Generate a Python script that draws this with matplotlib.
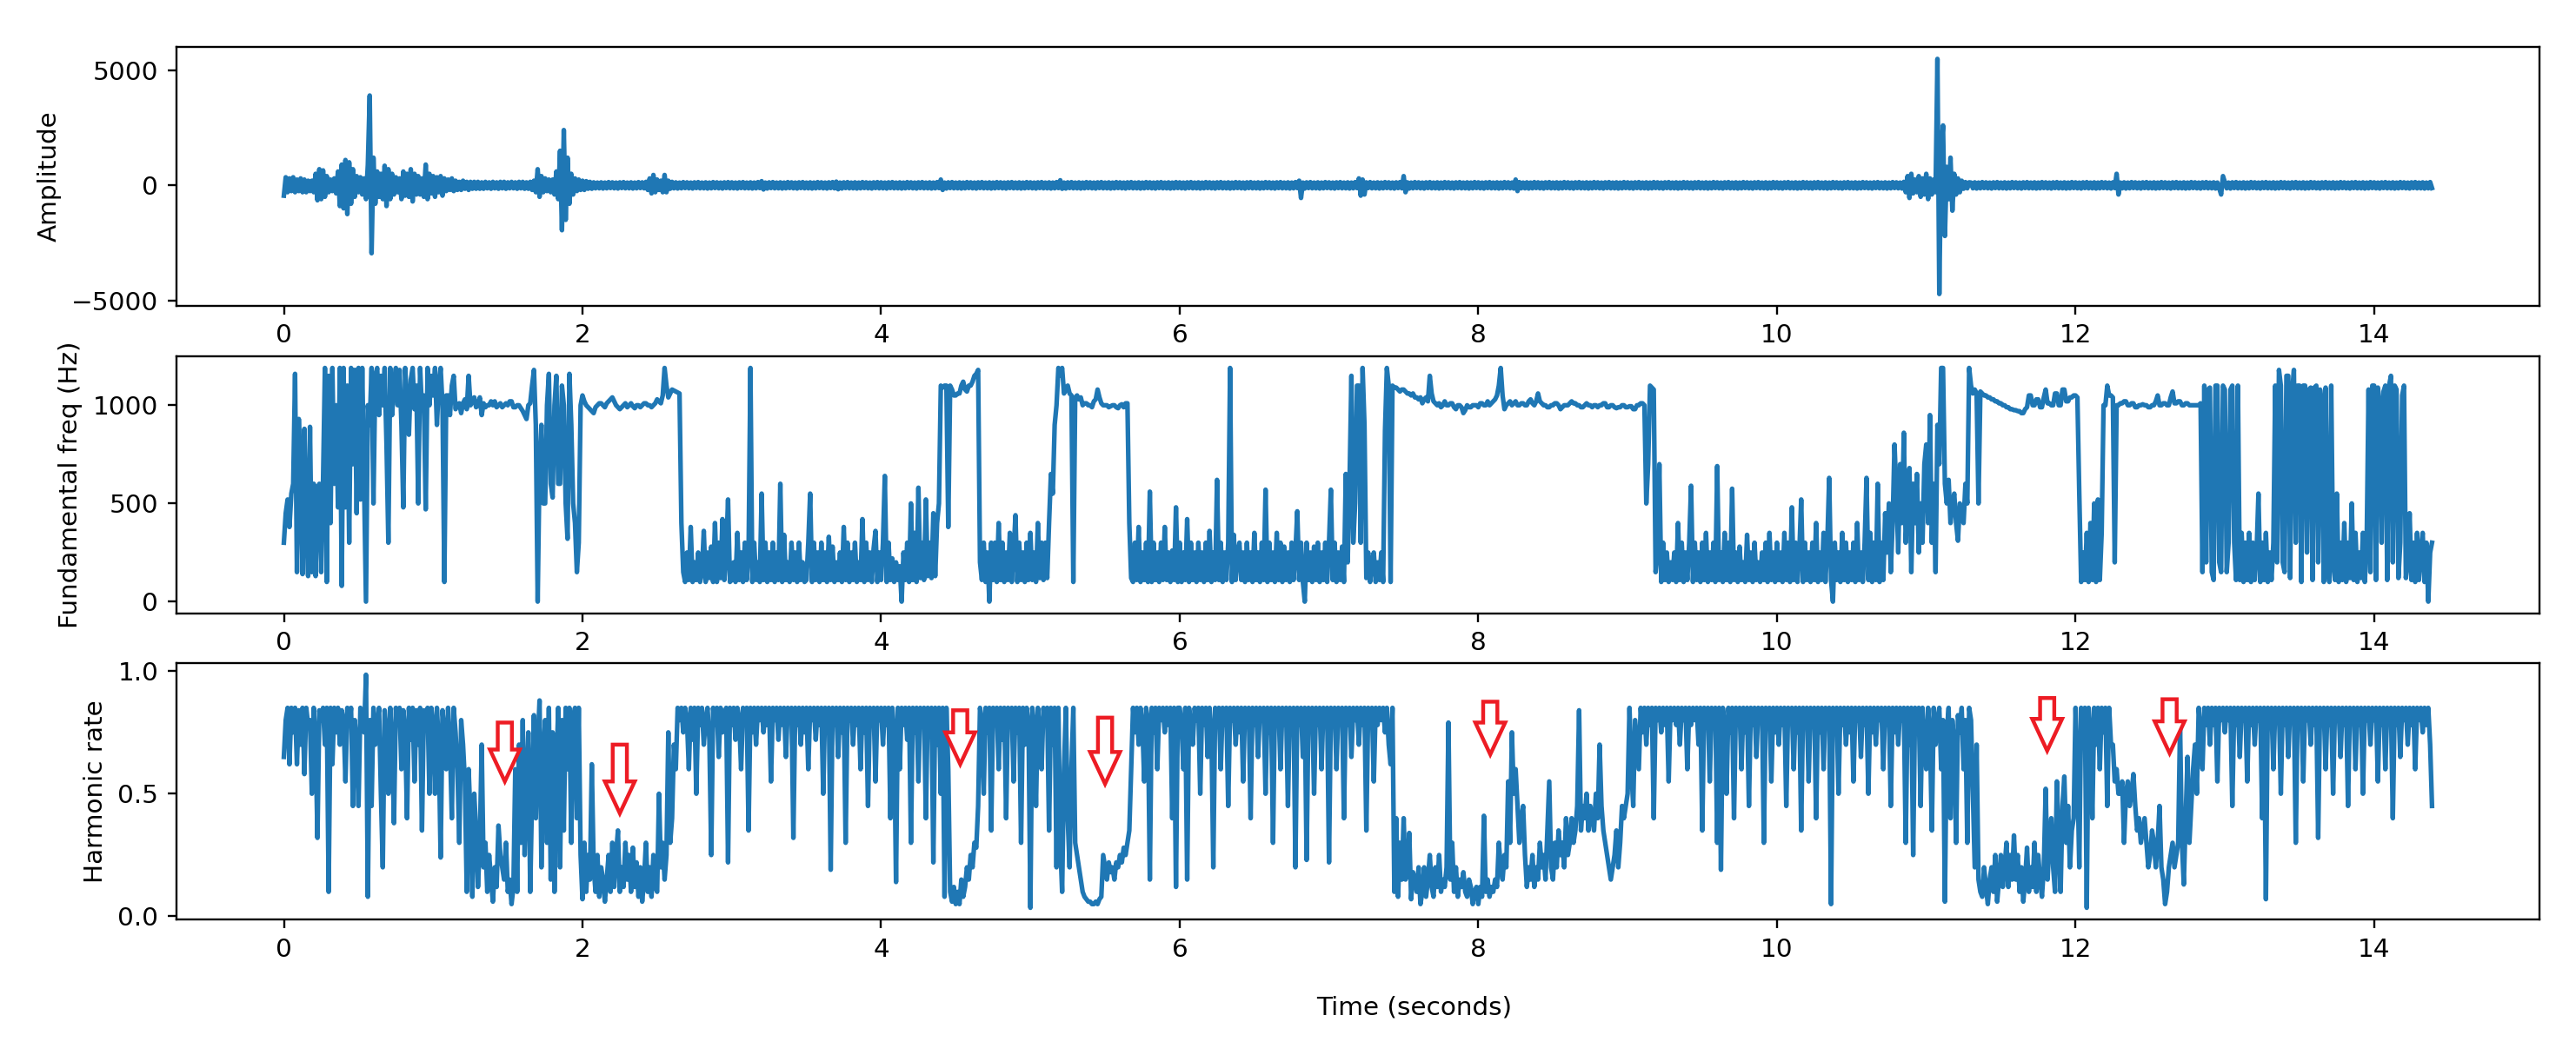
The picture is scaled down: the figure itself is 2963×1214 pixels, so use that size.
import numpy as np
import matplotlib.pyplot as plt
from matplotlib.patches import FancyArrow

plt.rcParams['font.size'] = 10

# samples are 0.0125 s apart, one row per second
time_step = 0.0125

# raw amplitude
amplitude_rows = [
    [-450, 350, -300, 300, -250, 350, -300, 250, -250, 300, -300, 250, -300, 200, -250, 200,
     -300, 500, -650, 700, -600, 650, -500, 400, -300, 250, -250, 300, -350, 600, -900, 900,
     -1000, 1100, -1250, 1000, -800, 700, -500, 400, -300, 350, -400, 300, -600, 900, 3900, -2950,
     1200, -800, 600, -500, 500, -600, 850, -900, 700, -600, 500, -400, 350, -300, 300, -600,
     600, -450, 500, -500, 700, -700, 500, -400, 400, -400, 300, -500, 900, -600, 500, -350],
    [400, -500, 350, -300, 400, -450, 300, -250, 250, -200, 300, -250, 200, -200, 150, -200,
     200, -150, 150, -200, 150, -150, 150, -150, 150, -150, 130, -150, 150, -130, 130, -150,
     150, -130, 130, -150, 150, -130, 150, -150, 130, -130, 150, -130, 130, -150, 150, -130,
     150, -150, 130, -150, 150, -200, 200, -300, 700, -500, 400, -300, 300, -250, 250, -300,
     250, -400, 600, -600, 1500, -1950, 2400, -1500, 1200, -800, 500, -400, 300, -250, 250, -200],
    [200, -200, 180, -150, 150, -150, 130, -130, 120, -130, 130, -140, 120, -130, 140, -120,
     130, -130, 120, -140, 130, -120, 140, -130, 120, -130, 130, -140, 120, -130, 140, -120,
     130, -130, 150, -200, 300, -350, 450, -300, 250, -200, 200, -300, 450, -300, 200, -150,
     150, -130, 130, -140, 120, -130, 140, -120, 130, -130, 120, -140, 130, -120, 140, -130,
     120, -130, 130, -140, 120, -130, 140, -120, 130, -130, 120, -140, 130, -120, 140, -130],
    [130, -130, 120, -140, 130, -120, 140, -130, 120, -130, 130, -140, 120, -130, 140, -120,
     180, -180, 120, -140, 130, -120, 140, -130, 120, -130, 130, -140, 120, -130, 140, -120,
     130, -130, 120, -140, 130, -120, 140, -130, 120, -130, 130, -140, 120, -130, 140, -120,
     130, -130, 120, -140, 130, -120, 140, -130, 160, -170, 120, -140, 130, -120, 140, -130,
     120, -130, 130, -140, 120, -130, 140, -120, 130, -130, 120, -140, 130, -120, 140, -130],
    [130, -130, 120, -140, 130, -120, 140, -130, 120, -130, 130, -140, 120, -130, 140, -120,
     130, -130, 120, -140, 130, -120, 140, -130, 120, -130, 130, -140, 120, -130, 140, -120,
     250, -200, 120, -140, 130, -120, 140, -130, 120, -130, 130, -140, 120, -130, 140, -120,
     130, -130, 120, -140, 130, -120, 140, -130, 120, -130, 130, -140, 120, -130, 140, -120,
     130, -130, 120, -140, 130, -120, 140, -130, 120, -130, 130, -140, 120, -130, 140, -120],
    [130, -130, 120, -140, 130, -120, 140, -130, 120, -130, 130, -140, 120, -130, 140, -120,
     220, -150, 120, -140, 130, -120, 140, -130, 120, -130, 130, -140, 120, -130, 140, -120,
     130, -130, 120, -140, 130, -120, 140, -130, 120, -130, 130, -140, 120, -130, 140, -120,
     130, -130, 120, -140, 130, -120, 140, -130, 120, -130, 130, -140, 120, -130, 140, -120,
     130, -130, 120, -140, 130, -120, 140, -130, 120, -130, 130, -140, 120, -130, 140, -120],
    [130, -130, 120, -140, 130, -120, 140, -130, 120, -130, 130, -140, 120, -130, 140, -120,
     130, -130, 120, -140, 130, -120, 140, -130, 120, -130, 130, -140, 120, -130, 140, -120,
     130, -130, 120, -140, 130, -120, 140, -130, 120, -130, 130, -140, 120, -130, 140, -120,
     130, -130, 120, -140, 130, -120, 140, -130, 120, -130, 130, -140, 120, -130, 140, -120,
     200, -550, 120, -140, 130, -120, 140, -130, 120, -130, 130, -140, 120, -130, 140, -120],
    [130, -130, 120, -140, 130, -120, 140, -130, 120, -130, 130, -140, 120, -130, 140, -120,
     300, -450, 250, -400, 130, -120, 140, -130, 120, -130, 130, -140, 120, -130, 140, -120,
     130, -130, 120, -140, 130, -120, 140, -130, 400, -300, 130, -140, 120, -130, 140, -120,
     130, -130, 120, -140, 130, -120, 140, -130, 120, -130, 130, -140, 120, -130, 140, -120,
     130, -130, 120, -140, 130, -120, 140, -130, 120, -130, 130, -140, 120, -130, 140, -120],
    [130, -130, 120, -140, 130, -120, 140, -130, 120, -130, 130, -140, 120, -130, 140, -120,
     130, -130, 120, -140, 250, -250, 140, -130, 120, -130, 130, -140, 120, -130, 140, -120,
     130, -130, 120, -140, 130, -120, 140, -130, 120, -130, 130, -140, 120, -130, 140, -120,
     130, -130, 120, -140, 130, -120, 140, -130, 120, -130, 130, -140, 120, -130, 140, -120,
     130, -130, 120, -140, 130, -120, 140, -130, 120, -130, 130, -140, 120, -130, 140, -120],
    [130, -130, 120, -140, 130, -120, 140, -130, 120, -130, 130, -140, 120, -130, 140, -120,
     130, -130, 120, -140, 130, -120, 140, -130, 120, -130, 130, -140, 120, -130, 140, -120,
     130, -130, 120, -140, 130, -120, 140, -130, 120, -130, 130, -140, 120, -130, 140, -120,
     130, -130, 120, -140, 130, -120, 140, -130, 120, -130, 130, -140, 120, -130, 140, -120,
     130, -130, 120, -140, 130, -120, 140, -130, 120, -130, 130, -140, 120, -130, 140, -120],
    [130, -130, 120, -140, 130, -120, 140, -130, 120, -130, 130, -140, 120, -130, 140, -120,
     130, -130, 120, -140, 130, -120, 140, -130, 120, -130, 130, -140, 120, -130, 140, -120,
     130, -130, 120, -140, 130, -120, 140, -130, 120, -130, 130, -140, 120, -130, 140, -120,
     130, -130, 120, -140, 130, -120, 140, -130, 120, -130, 130, -140, 120, -130, 140, -120,
     130, -130, 120, -140, 150, -300, 400, -550, 500, -350, 250, -300, 400, -500, 300, -400],
    [500, -600, 300, -400, 250, -300, 5490, -4720, 1500, 2600, -2200, 800, -600, 1200, -1100, 500,
     -400, 300, -300, 200, -150, 140, -130, 130, 120, -130, 130, -140, 120, -130, 140, -120,
     130, -130, 120, -140, 130, -120, 140, -130, 120, -130, 130, -140, 120, -130, 140, -120,
     130, -130, 120, -140, 130, -120, 140, -130, 120, -130, 130, -140, 120, -130, 140, -120,
     130, -130, 120, -140, 130, -120, 140, -130, 120, -130, 130, -140, 120, -130, 140, -120],
    [130, -130, 120, -140, 130, -120, 140, -130, 120, -130, 130, -140, 120, -130, 140, -120,
     130, -130, 120, -140, 130, -120, 500, -400, 120, -130, 130, -140, 120, -130, 140, -120,
     130, -130, 120, -140, 130, -120, 140, -130, 120, -130, 130, -140, 120, -130, 140, -120,
     130, -130, 120, -140, 130, -120, 140, -130, 120, -130, 130, -140, 120, -130, 140, -120,
     130, -130, 120, -140, 130, -120, 140, -130, 120, -130, 130, -140, 120, -130, -400, 400],
    [130, -130, 120, -140, 130, -120, 140, -130, 120, -130, 130, -140, 120, -130, 140, -120,
     130, -130, 120, -140, 130, -120, 140, -130, 120, -130, 130, -140, 120, -130, 140, -120,
     130, -130, 120, -140, 130, -120, 140, -130, 120, -130, 130, -140, 120, -130, 140, -120,
     130, -130, 120, -140, 130, -120, 140, -130, 120, -130, 130, -140, 120, -130, 140, -120,
     130, -130, 120, -140, 130, -120, 140, -130, 120, -130, 130, -140, 120, -130, 140, -120],
    [130, -130, 120, -140, 130, -120, 140, -130, 120, -130, 130, -140, 120, -130, 140, -120,
     130, -130, 120, -140, 130, -120, 140, -130, 120, -130, 130, -140, 120, -130, 140, -120],
]

# fundamental frequency (Hz)
fundamental_rows = [
    [300, 450, 520, 380, 550, 600, 1160, 150, 930, 600, 140, 880, 400, 130, 890, 150,
     600, 130, 560, 600, 150, 620, 1190, 100, 1150, 400, 1190, 600, 1000, 480, 1190, 80,
     1190, 480, 1100, 300, 1190, 700, 1180, 450, 1190, 520, 1190, 600, 0, 1000, 900, 1190,
     500, 1150, 1190, 950, 1150, 1000, 1190, 800, 300, 1190, 950, 1100, 1190, 1000, 1180, 900,
     480, 1190, 1000, 850, 1130, 1190, 980, 1100, 500, 1190, 980, 1050, 470, 1190, 1000, 1150],
    [1050, 1190, 900, 1100, 1190, 1000, 100, 1050, 1050, 950, 1100, 1150, 980, 1000, 1010, 960,
     1010, 1030, 980, 1150, 1000, 1020, 1040, 990, 1000, 1040, 950, 1010, 990, 1000, 1000, 1020,
     1000, 1020, 990, 1000, 1010, 990, 1000, 1010, 1000, 1020, 1020, 990, 990, 1000, 1000, 985,
     970, 950, 930, 1000, 1010, 1100, 1180, 900, 0, 700, 900, 500, 500, 1000, 1160, 600,
     530, 1000, 1150, 600, 600, 1100, 1000, 500, 320, 1160, 900, 500, 400, 150, 300, 1000],
    [1050, 1020, 1000, 990, 980, 970, 960, 990, 1000, 1010, 1010, 1000, 990, 1010, 1020, 1030,
     1040, 1020, 1000, 990, 980, 990, 1000, 1010, 990, 1000, 1010, 995, 985, 1000, 1000, 990,
     1000, 1010, 1010, 1000, 1000, 990, 1000, 1010, 1030, 1020, 1010, 1050, 1190, 1100, 1040, 1060,
     1080, 1075, 1070, 1065, 1060, 400, 150, 100, 250, 110, 380, 100, 200, 110, 250, 100,
     150, 360, 100, 250, 120, 280, 100, 400, 100, 300, 120, 420, 110, 250, 520, 100],
    [110, 200, 100, 350, 110, 250, 100, 300, 110, 250, 1190, 100, 300, 110, 200, 100,
     550, 110, 300, 100, 250, 110, 300, 100, 250, 110, 600, 100, 340, 110, 200, 100,
     300, 110, 250, 100, 300, 110, 200, 100, 110, 300, 550, 100, 300, 110, 250, 100,
     300, 110, 250, 100, 330, 110, 280, 100, 200, 110, 250, 100, 380, 110, 300, 100,
     250, 110, 300, 100, 200, 110, 420, 100, 300, 110, 250, 100, 270, 360, 100, 250],
    [110, 300, 640, 100, 300, 110, 220, 100, 200, 110, 180, 0, 250, 110, 300, 100,
     500, 110, 350, 100, 580, 120, 300, 110, 520, 130, 300, 120, 450, 130, 400, 500,
     1100, 1090, 1100, 1100, 380, 1100, 1080, 1050, 1050, 1060, 1060, 1100, 1120, 1080, 1070, 1100,
     1100, 1120, 1150, 1160, 1180, 200, 110, 300, 100, 250, 0, 300, 110, 300, 100, 400,
     110, 300, 100, 250, 110, 350, 100, 250, 440, 100, 300, 110, 250, 100, 300, 110],
    [350, 110, 250, 100, 400, 120, 300, 110, 300, 120, 400, 650, 550, 900, 1000, 1190,
     1150, 1190, 1060, 1080, 1100, 1060, 1050, 100, 1040, 1050, 1030, 1040, 1000, 1010, 1010, 1000,
     1000, 990, 1020, 1030, 1080, 1040, 1010, 1000, 1000, 1000, 990, 995, 1000, 1000, 990, 985,
     1000, 1005, 990, 1010, 1010, 400, 120, 100, 300, 110, 380, 100, 250, 110, 300, 100,
     560, 100, 300, 110, 250, 100, 300, 110, 380, 110, 250, 100, 260, 110, 480, 100],
    [300, 100, 250, 110, 420, 100, 300, 110, 250, 100, 300, 110, 250, 100, 300, 110,
     360, 100, 250, 110, 620, 110, 300, 100, 250, 110, 300, 1190, 100, 340, 110, 250,
     300, 110, 250, 100, 300, 110, 250, 100, 350, 110, 250, 100, 300, 110, 570, 100,
     300, 110, 250, 100, 350, 110, 300, 100, 280, 110, 250, 100, 300, 110, 250, 460,
     110, 300, 100, 0, 300, 110, 250, 100, 280, 110, 300, 100, 250, 110, 300, 100],
    [300, 570, 110, 300, 100, 250, 110, 280, 100, 650, 200, 600, 1150, 300, 500, 1100,
     1100, 300, 1190, 900, 120, 250, 100, 200, 250, 100, 200, 110, 250, 100, 870, 1190,
     1100, 100, 1100, 1090, 1090, 1080, 1070, 1080, 1080, 1070, 1060, 1060, 1050, 1060, 1040, 1040,
     1030, 1040, 1010, 1030, 1040, 1020, 1150, 1060, 1020, 1010, 1000, 1010, 990, 1000, 1020, 1000,
     1000, 1010, 1010, 990, 980, 1000, 1000, 990, 960, 975, 1000, 990, 990, 1000, 1000, 1000],
    [990, 1010, 1010, 1000, 1000, 1020, 1000, 1010, 1020, 1030, 1050, 1100, 1190, 1050, 980, 1000,
     1010, 1020, 1000, 1010, 1020, 1000, 1000, 1010, 1010, 1000, 1000, 1020, 1030, 1010, 1000, 1020,
     1060, 1020, 1010, 1000, 1000, 990, 990, 1000, 1000, 1010, 1010, 1000, 980, 990, 1000, 1000,
     1000, 1010, 1020, 1010, 1010, 1000, 1000, 990, 990, 1000, 1010, 1000, 1000, 990, 1000, 1000,
     990, 1000, 1000, 1010, 1010, 990, 990, 1000, 1000, 990, 985, 990, 990, 1000, 1000, 990],
    [990, 995, 995, 980, 980, 1000, 1000, 1010, 1010, 1000, 500, 700, 1100, 1090, 1080, 150,
     250, 700, 100, 300, 110, 250, 100, 200, 110, 250, 100, 400, 110, 300, 100, 250,
     110, 300, 590, 100, 300, 110, 250, 100, 300, 110, 350, 100, 250, 110, 300, 100,
     690, 110, 250, 100, 350, 110, 300, 100, 575, 110, 250, 100, 280, 110, 200, 100,
     340, 110, 250, 100, 300, 110, 200, 100, 250, 110, 300, 100, 350, 110, 250, 100],
    [300, 110, 250, 100, 350, 110, 300, 100, 480, 110, 300, 100, 250, 520, 100, 300,
     110, 250, 100, 300, 110, 400, 100, 250, 110, 350, 100, 300, 630, 110, 0, 300,
     110, 250, 100, 350, 110, 300, 100, 250, 110, 300, 100, 400, 110, 250, 100, 300,
     630, 110, 350, 100, 300, 110, 600, 100, 300, 110, 450, 250, 500, 150, 400, 800,
     560, 250, 700, 400, 860, 300, 500, 680, 150, 600, 400, 650, 250, 500, 300, 700],
    [800, 400, 950, 300, 600, 150, 900, 700, 1190, 1190, 600, 500, 620, 400, 500, 550,
     400, 310, 500, 450, 400, 600, 500, 1190, 1100, 1060, 1080, 1060, 500, 1070, 1060, 1050,
     1050, 1040, 1040, 1030, 1030, 1020, 1020, 1010, 1010, 1000, 1000, 990, 990, 980, 980, 975,
     975, 970, 970, 960, 960, 980, 990, 1050, 1050, 1000, 1000, 1030, 1030, 990, 990, 1040,
     1080, 1010, 1010, 1000, 1000, 1060, 1060, 1000, 1000, 1080, 1080, 1020, 1020, 1040, 1040, 1050],
    [1050, 1040, 550, 100, 250, 110, 350, 100, 400, 110, 500, 100, 520, 110, 350, 1000,
     1000, 1100, 1050, 1050, 1040, 200, 1000, 1000, 1010, 1010, 1020, 1020, 1000, 1000, 1010, 1010,
     990, 990, 1000, 1000, 1005, 1000, 1000, 990, 990, 1000, 1000, 1020, 1050, 1000, 1000, 1010,
     1010, 1000, 1000, 1040, 1070, 1010, 1010, 1020, 1020, 1000, 1000, 1010, 1010, 1000, 1000, 1000,
     1000, 1000, 1000, 1010, 150, 1100, 200, 1080, 1090, 150, 110, 1100, 1100, 200, 150, 1100],
    [1080, 150, 300, 1080, 1100, 300, 110, 1100, 110, 350, 100, 300, 110, 350, 100, 300,
     110, 250, 550, 100, 300, 110, 350, 100, 250, 110, 300, 1100, 200, 1180, 1100, 200,
     150, 1150, 1150, 120, 1060, 1180, 300, 1100, 1100, 100, 1100, 1100, 250, 1080, 1090, 110,
     1090, 1100, 200, 1080, 1000, 100, 1090, 200, 100, 1100, 200, 110, 550, 100, 300, 110,
     400, 100, 300, 120, 500, 110, 350, 100, 250, 120, 350, 100, 300, 1080, 150, 1100],
    [1100, 110, 1090, 1000, 300, 1070, 1100, 110, 1100, 1150, 200, 1100, 1080, 120, 300, 1050,
     1100, 120, 200, 450, 110, 300, 100, 350, 110, 250, 350, 100, 300, 0, 250, 300],
]

# harmonic rate
harmonic_rows = [
    [0.65, 0.80, 0.85, 0.62, 0.85, 0.75, 0.85, 0.62, 0.84, 0.70, 0.85, 0.58, 0.85, 0.78, 0.80, 0.50,
     0.85, 0.72, 0.32, 0.84, 0.80, 0.85, 0.70, 0.85, 0.10, 0.85, 0.62, 0.85, 0.75, 0.85, 0.70, 0.84,
     0.80, 0.55, 0.85, 0.78, 0.85, 0.45, 0.80, 0.70, 0.45, 0.85, 0.80, 0.75, 0.985, 0.08, 0.80, 0.45,
     0.85, 0.70, 0.78, 0.85, 0.50, 0.20, 0.84, 0.75, 0.50, 0.85, 0.70, 0.38, 0.85, 0.78, 0.85, 0.60,
     0.84, 0.75, 0.40, 0.85, 0.72, 0.85, 0.55, 0.84, 0.70, 0.85, 0.35, 0.84, 0.80, 0.85, 0.50, 0.85],
    [0.78, 0.50, 0.85, 0.70, 0.24, 0.84, 0.75, 0.60, 0.85, 0.70, 0.40, 0.85, 0.75, 0.60, 0.30, 0.80,
     0.70, 0.55, 0.10, 0.60, 0.40, 0.08, 0.50, 0.35, 0.12, 0.30, 0.70, 0.20, 0.30, 0.10, 0.25, 0.15,
     0.06, 0.20, 0.12, 0.37, 0.25, 0.20, 0.15, 0.30, 0.10, 0.15, 0.05, 0.12, 0.60, 0.10, 0.70, 0.30,
     0.80, 0.25, 0.55, 0.75, 0.10, 0.50, 0.82, 0.40, 0.70, 0.88, 0.20, 0.65, 0.80, 0.30, 0.85, 0.15,
     0.75, 0.10, 0.60, 0.85, 0.20, 0.80, 0.35, 0.85, 0.60, 0.85, 0.30, 0.80, 0.85, 0.40, 0.85, 0.25],
    [0.07, 0.30, 0.10, 0.25, 0.15, 0.62, 0.20, 0.10, 0.25, 0.08, 0.20, 0.15, 0.06, 0.15, 0.25, 0.10,
     0.30, 0.12, 0.25, 0.35, 0.10, 0.20, 0.12, 0.30, 0.15, 0.25, 0.10, 0.28, 0.12, 0.22, 0.08, 0.20,
     0.06, 0.15, 0.30, 0.10, 0.20, 0.08, 0.25, 0.12, 0.10, 0.50, 0.20, 0.30, 0.15, 0.25, 0.75, 0.30,
     0.40, 0.70, 0.60, 0.85, 0.80, 0.85, 0.75, 0.85, 0.80, 0.60, 0.85, 0.72, 0.85, 0.50, 0.85, 0.78,
     0.85, 0.70, 0.80, 0.85, 0.72, 0.25, 0.85, 0.78, 0.85, 0.65, 0.85, 0.75, 0.80, 0.85, 0.22, 0.85],
    [0.78, 0.85, 0.72, 0.85, 0.80, 0.60, 0.85, 0.78, 0.85, 0.35, 0.85, 0.75, 0.85, 0.70, 0.85, 0.80,
     0.85, 0.75, 0.85, 0.78, 0.85, 0.55, 0.85, 0.80, 0.85, 0.72, 0.85, 0.78, 0.85, 0.65, 0.85, 0.80,
     0.85, 0.32, 0.85, 0.78, 0.85, 0.70, 0.85, 0.75, 0.85, 0.60, 0.85, 0.80, 0.85, 0.72, 0.85, 0.78,
     0.85, 0.50, 0.85, 0.75, 0.85, 0.19, 0.85, 0.78, 0.85, 0.65, 0.85, 0.75, 0.85, 0.30, 0.85, 0.80,
     0.85, 0.70, 0.85, 0.78, 0.85, 0.60, 0.85, 0.75, 0.85, 0.45, 0.85, 0.78, 0.85, 0.55, 0.85, 0.80],
    [0.85, 0.70, 0.85, 0.78, 0.85, 0.40, 0.85, 0.75, 0.14, 0.85, 0.60, 0.85, 0.78, 0.85, 0.72, 0.85,
     0.30, 0.85, 0.75, 0.85, 0.55, 0.85, 0.78, 0.85, 0.40, 0.85, 0.75, 0.85, 0.22, 0.85, 0.70, 0.85,
     0.50, 0.85, 0.08, 0.85, 0.60, 0.10, 0.06, 0.12, 0.05, 0.10, 0.05, 0.15, 0.08, 0.12, 0.20, 0.15,
     0.25, 0.20, 0.30, 0.28, 0.45, 0.85, 0.80, 0.50, 0.85, 0.75, 0.85, 0.35, 0.85, 0.78, 0.85, 0.60,
     0.85, 0.72, 0.85, 0.40, 0.85, 0.78, 0.85, 0.55, 0.85, 0.75, 0.85, 0.30, 0.85, 0.70, 0.85, 0.78],
    [0.035, 0.85, 0.78, 0.45, 0.85, 0.75, 0.60, 0.85, 0.78, 0.85, 0.35, 0.85, 0.70, 0.85, 0.20, 0.85,
     0.30, 0.10, 0.60, 0.85, 0.40, 0.20, 0.60, 0.85, 0.30, 0.25, 0.20, 0.15, 0.10, 0.08, 0.07, 0.06,
     0.06, 0.05, 0.05, 0.06, 0.05, 0.07, 0.08, 0.25, 0.20, 0.15, 0.22, 0.18, 0.20, 0.15, 0.22, 0.20,
     0.25, 0.22, 0.28, 0.25, 0.30, 0.35, 0.60, 0.85, 0.75, 0.85, 0.70, 0.85, 0.78, 0.55, 0.85, 0.80,
     0.15, 0.85, 0.75, 0.85, 0.60, 0.85, 0.80, 0.85, 0.75, 0.85, 0.78, 0.85, 0.40, 0.85, 0.12, 0.85],
    [0.85, 0.78, 0.60, 0.85, 0.15, 0.85, 0.78, 0.70, 0.85, 0.80, 0.85, 0.50, 0.85, 0.78, 0.85, 0.65,
     0.85, 0.75, 0.20, 0.85, 0.80, 0.85, 0.60, 0.85, 0.78, 0.85, 0.45, 0.85, 0.80, 0.85, 0.70, 0.85,
     0.75, 0.85, 0.55, 0.85, 0.80, 0.85, 0.40, 0.85, 0.78, 0.85, 0.65, 0.85, 0.80, 0.85, 0.50, 0.85,
     0.75, 0.85, 0.30, 0.85, 0.80, 0.85, 0.60, 0.85, 0.78, 0.85, 0.45, 0.85, 0.80, 0.85, 0.20, 0.85,
     0.78, 0.85, 0.65, 0.85, 0.23, 0.85, 0.80, 0.85, 0.50, 0.85, 0.78, 0.85, 0.60, 0.85, 0.80, 0.85],
    [0.22, 0.85, 0.78, 0.85, 0.60, 0.85, 0.80, 0.85, 0.40, 0.85, 0.78, 0.85, 0.65, 0.85, 0.80, 0.85,
     0.70, 0.85, 0.78, 0.85, 0.35, 0.85, 0.80, 0.85, 0.55, 0.85, 0.78, 0.85, 0.80, 0.85, 0.75, 0.85,
     0.70, 0.62, 0.85, 0.10, 0.40, 0.08, 0.30, 0.15, 0.40, 0.15, 0.20, 0.34, 0.07, 0.18, 0.15, 0.10,
     0.20, 0.05, 0.10, 0.20, 0.08, 0.15, 0.25, 0.12, 0.08, 0.20, 0.12, 0.25, 0.10, 0.15, 0.12, 0.20,
     0.79, 0.15, 0.30, 0.10, 0.20, 0.08, 0.15, 0.12, 0.18, 0.10, 0.08, 0.15, 0.12, 0.05, 0.10, 0.12],
    [0.05, 0.12, 0.08, 0.41, 0.10, 0.15, 0.08, 0.12, 0.10, 0.15, 0.12, 0.30, 0.20, 0.15, 0.25, 0.20,
     0.55, 0.30, 0.75, 0.50, 0.60, 0.45, 0.30, 0.40, 0.45, 0.25, 0.12, 0.20, 0.15, 0.25, 0.12, 0.20,
     0.15, 0.30, 0.20, 0.25, 0.15, 0.35, 0.55, 0.20, 0.15, 0.30, 0.20, 0.35, 0.25, 0.30, 0.20, 0.40,
     0.25, 0.30, 0.40, 0.30, 0.35, 0.45, 0.84, 0.35, 0.45, 0.40, 0.50, 0.35, 0.45, 0.40, 0.35, 0.50,
     0.40, 0.70, 0.45, 0.35, 0.30, 0.25, 0.20, 0.15, 0.20, 0.25, 0.35, 0.20, 0.30, 0.45, 0.40, 0.45],
    [0.50, 0.85, 0.60, 0.45, 0.80, 0.70, 0.60, 0.85, 0.75, 0.85, 0.70, 0.85, 0.78, 0.85, 0.40, 0.85,
     0.80, 0.85, 0.75, 0.85, 0.78, 0.85, 0.55, 0.85, 0.80, 0.85, 0.78, 0.85, 0.70, 0.85, 0.80, 0.85,
     0.60, 0.85, 0.78, 0.85, 0.80, 0.85, 0.70, 0.85, 0.35, 0.85, 0.78, 0.85, 0.55, 0.85, 0.80, 0.85,
     0.30, 0.85, 0.19, 0.85, 0.78, 0.50, 0.85, 0.75, 0.85, 0.40, 0.85, 0.78, 0.85, 0.60, 0.85, 0.75,
     0.85, 0.45, 0.85, 0.78, 0.85, 0.65, 0.85, 0.80, 0.85, 0.30, 0.85, 0.78, 0.85, 0.55, 0.85, 0.75],
    [0.85, 0.70, 0.85, 0.78, 0.85, 0.45, 0.85, 0.80, 0.85, 0.60, 0.85, 0.75, 0.85, 0.35, 0.85, 0.78,
     0.85, 0.55, 0.85, 0.80, 0.85, 0.40, 0.85, 0.75, 0.85, 0.60, 0.85, 0.78, 0.85, 0.05, 0.85, 0.80,
     0.85, 0.50, 0.85, 0.78, 0.85, 0.70, 0.85, 0.75, 0.85, 0.55, 0.85, 0.80, 0.85, 0.65, 0.85, 0.78,
     0.85, 0.50, 0.85, 0.75, 0.85, 0.70, 0.85, 0.80, 0.85, 0.60, 0.85, 0.78, 0.85, 0.45, 0.85, 0.75,
     0.85, 0.70, 0.85, 0.80, 0.85, 0.30, 0.85, 0.70, 0.85, 0.25, 0.85, 0.75, 0.85, 0.45, 0.85, 0.70],
    [0.60, 0.85, 0.75, 0.35, 0.85, 0.70, 0.80, 0.85, 0.60, 0.80, 0.06, 0.75, 0.85, 0.40, 0.80, 0.70,
     0.30, 0.82, 0.75, 0.85, 0.60, 0.80, 0.30, 0.85, 0.80, 0.50, 0.20, 0.70, 0.15, 0.10, 0.08, 0.20,
     0.12, 0.05, 0.15, 0.20, 0.10, 0.25, 0.06, 0.15, 0.25, 0.12, 0.20, 0.30, 0.12, 0.25, 0.15, 0.33,
     0.15, 0.25, 0.10, 0.20, 0.06, 0.15, 0.28, 0.10, 0.20, 0.12, 0.30, 0.10, 0.25, 0.15, 0.08, 0.20,
     0.52, 0.15, 0.30, 0.40, 0.20, 0.10, 0.55, 0.30, 0.10, 0.45, 0.57, 0.30, 0.45, 0.20, 0.35, 0.40],
    [0.85, 0.60, 0.20, 0.85, 0.70, 0.85, 0.035, 0.85, 0.75, 0.40, 0.85, 0.70, 0.85, 0.60, 0.85, 0.75,
     0.85, 0.45, 0.85, 0.70, 0.70, 0.55, 0.60, 0.50, 0.50, 0.55, 0.30, 0.50, 0.55, 0.45, 0.50, 0.58,
     0.45, 0.35, 0.40, 0.30, 0.35, 0.40, 0.30, 0.20, 0.25, 0.35, 0.30, 0.20, 0.30, 0.45, 0.20, 0.15,
     0.05, 0.10, 0.20, 0.25, 0.30, 0.20, 0.25, 0.30, 0.78, 0.30, 0.13, 0.40, 0.65, 0.30, 0.45, 0.60,
     0.70, 0.50, 0.85, 0.75, 0.60, 0.85, 0.78, 0.85, 0.70, 0.85, 0.78, 0.85, 0.55, 0.85, 0.80, 0.85],
    [0.75, 0.85, 0.80, 0.85, 0.45, 0.85, 0.78, 0.85, 0.65, 0.85, 0.80, 0.85, 0.55, 0.85, 0.78, 0.85,
     0.70, 0.85, 0.80, 0.85, 0.40, 0.85, 0.07, 0.85, 0.78, 0.85, 0.60, 0.85, 0.80, 0.85, 0.50, 0.85,
     0.78, 0.85, 0.65, 0.85, 0.80, 0.85, 0.30, 0.85, 0.78, 0.85, 0.55, 0.85, 0.80, 0.85, 0.70, 0.85,
     0.78, 0.85, 0.32, 0.85, 0.80, 0.85, 0.60, 0.85, 0.78, 0.85, 0.50, 0.85, 0.80, 0.85, 0.65, 0.85,
     0.78, 0.85, 0.45, 0.85, 0.80, 0.85, 0.60, 0.85, 0.78, 0.85, 0.50, 0.85, 0.80, 0.85, 0.70, 0.85],
    [0.80, 0.85, 0.55, 0.85, 0.78, 0.85, 0.60, 0.85, 0.80, 0.85, 0.40, 0.85, 0.78, 0.85, 0.65, 0.85,
     0.80, 0.85, 0.70, 0.85, 0.78, 0.85, 0.60, 0.85, 0.80, 0.85, 0.75, 0.85, 0.78, 0.85, 0.70, 0.45],
]

# red markers on the harmonic rate panel (time, top of arrow, tip)
arrow_x = [1.48, 2.25, 4.53, 5.50, 8.08, 11.81, 12.63]
arrow_top = [0.79, 0.70, 0.84, 0.81, 0.875, 0.89, 0.885]
arrow_tip = [0.55, 0.42, 0.62, 0.54, 0.66, 0.675, 0.665]

for rows in (amplitude_rows, fundamental_rows, harmonic_rows):
    assert all(len(r) == 80 for r in rows[:-1]) and len(rows[-1]) == 32

amplitude = np.concatenate(amplitude_rows)
fundamental = np.concatenate(fundamental_rows)
harmonic = np.concatenate(harmonic_rows)
time = np.arange(len(amplitude)) * time_step

line_width = 1.8

fig = plt.figure(figsize=(2963 / 212, 1214 / 212), dpi=212)

ax1 = fig.add_axes([0.0685, 0.7102, 0.9173, 0.2451])
ax1.plot(time, amplitude, lw=line_width)
ax1.set_ylabel('Amplitude')
ax1.set_yticks([-5000, 0, 5000])

ax2 = fig.add_axes([0.0685, 0.4187, 0.9173, 0.2436])
ax2.plot(time, fundamental, lw=line_width)
ax2.set_ylabel('Fundamental freq (Hz)')
ax2.set_yticks([0, 500, 1000])

ax3 = fig.add_axes([0.0685, 0.1285, 0.9173, 0.2430])
ax3.plot(time, harmonic, lw=line_width)
ax3.set_ylabel('Harmonic rate')
ax3.set_yticks([0.0, 0.5, 1.0])

# hollow red arrows
for x, top, tip in zip(arrow_x, arrow_top, arrow_tip):
    ax3.add_patch(FancyArrow(x, top, 0, tip - top, width=0.095, head_width=0.2,
                             head_length=0.13, length_includes_head=True,
                             facecolor='white', edgecolor='#ed1c24', linewidth=1.5, zorder=5))

fig.text(0.549, 0.0453, 'Time (seconds)', ha='center', va='center')

fig.savefig('out.png', dpi=212)
